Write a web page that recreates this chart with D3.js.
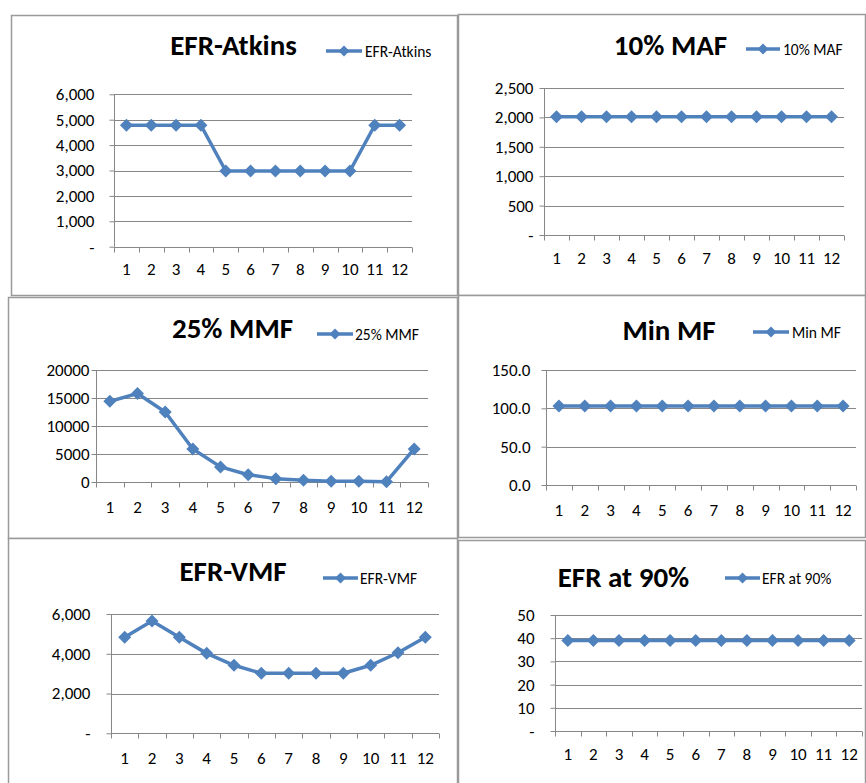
<!DOCTYPE html>
<html><head><meta charset="utf-8">
<script src="https://cdn.jsdelivr.net/npm/d3@7"></script>
<style>
html,body{margin:0;padding:0;background:#fff;}
svg{display:block;}
text{font-family:Carlito,Calibri,Lato,"Open Sans",sans-serif;fill:#000;}
</style></head>
<body>
<svg id="c" width="866" height="783"></svg>
<script>
// ---- data ----
const months = ["1","2","3","4","5","6","7","8","9","10","11","12"];
const titles = ["EFR-Atkins","10% MAF","25% MMF","Min MF","EFR-VMF","EFR at 90%"];
const efrAtkins = [4780,4780,4780,4780,2980,2980,2980,2980,2980,2980,4780,4780];
const maf10 = [2010,2010,2010,2010,2010,2010,2010,2010,2010,2010,2010,2010];
const mmf25 = [14400,15800,12500,5900,2700,1300,600,300,150,120,50,5900];
const minMF = [103,103,103,103,103,103,103,103,103,103,103,103];
const efrVMF = [4830,5650,4830,4020,3420,3020,3020,3020,3020,3420,4050,4830];
const efr90 = [39,39,39,39,39,39,39,39,39,39,39,39];
const ticksAtkins = [0,1000,2000,3000,4000,5000,6000];
const ticksMAF = [0,500,1000,1500,2000,2500];
const ticksMMF = [0,5000,10000,15000,20000];
const ticksMinMF = [0,50,100,150];
const ticksVMF = [0,2000,4000,6000];
const ticks90 = [0,10,20,30,40,50];

const fmtComma = v => v === 0 ? "-" : d3.format(",")(v);
const fmtPlain = v => d3.format("d")(v);
const fmtDec = v => d3.format(".1f")(v);
const fmtDash = v => v === 0 ? "-" : d3.format("d")(v);

// ---- layout ----
const panels = [
  {title:titles[0], values:efrAtkins, ticks:ticksAtkins, fmt:fmtComma,
   box:[11,15,457,295], plot:{l:114,r:412,t:94.3,b:246.7}, tx:233.5, ty:55,
   lg:{x0:326,x1:362,y:51,tx:365}, ygap:20, xgap:27},
  {title:titles[1], values:maf10, ticks:ticksMAF, fmt:fmtComma,
   box:[458,14,865,295], plot:{l:544,r:844,t:88,b:235}, tx:670.5, ty:55,
   lg:{x0:746,x1:780,y:49,tx:783}, ygap:11, xgap:28},
  {title:titles[2], values:mmf25, ticks:ticksMMF, fmt:fmtPlain,
   box:[8,297,457,538], plot:{l:96,r:428,t:370,b:482}, tx:232.5, ty:338,
   lg:{x0:317,x1:353,y:334,tx:355}, ygap:7, xgap:30},
  {title:titles[3], values:minMF, ticks:ticksMinMF, fmt:fmtDec,
   box:[458,295,865,537], plot:{l:546,r:856,t:370,b:485}, tx:669, ty:340,
   lg:{x0:753,x1:789,y:332,tx:792}, ygap:16, xgap:30},
  {title:titles[4], values:efrVMF, ticks:ticksVMF, fmt:fmtComma,
   box:[8,538,457,800], plot:{l:111,r:439,t:614,b:733.3}, tx:233, ty:581,
   lg:{x0:323,x1:358,y:578,tx:360}, ygap:21, xgap:30},
  {title:titles[5], values:efr90, ticks:ticks90, fmt:fmtDash,
   box:[458,540,865,800], plot:{l:555,r:862,t:615,b:731}, tx:623.5, ty:587,
   lg:{x0:725,x1:760,y:578,tx:762}, ygap:21, xgap:28}
];

const blue = "#4F81BD";
const gridC = "#878787";
const svg = d3.select("#c");
const diamond = s => `M0,${-s}L${s},0L0,${s}L${-s},0Z`;

panels.forEach(p => {
  const g = svg.append("g");
  const [bx0,by0,bx1,by1] = p.box;
  g.append("rect").attr("x",bx0+0.5).attr("y",by0+0.5)
    .attr("width",bx1-bx0).attr("height",by1-by0)
    .attr("fill","#fff").attr("stroke","#9a9a9a").attr("stroke-width",1.5);

  const x = d3.scaleBand().domain(months).range([p.plot.l,p.plot.r]);
  const yMax = p.ticks[p.ticks.length-1];
  const y = d3.scaleLinear().domain([0,yMax]).range([p.plot.b,p.plot.t]);

  // gridlines
  g.append("g").selectAll("line").data(p.ticks.filter(t=>t>0)).join("line")
    .attr("x1",p.plot.l).attr("x2",p.plot.r)
    .attr("y1",d=>Math.round(y(d))+0.5).attr("y2",d=>Math.round(y(d))+0.5)
    .attr("stroke",gridC).attr("stroke-width",1);

  // y axis
  const ya = g.append("g").attr("transform",`translate(${Math.round(p.plot.l)+0.5},0)`)
    .call(d3.axisLeft(y).tickValues(p.ticks).tickFormat(p.fmt).tickSize(5).tickPadding(p.ygap-5));
  ya.select(".domain").attr("stroke",gridC).attr("d",`M0,${p.plot.t}V${p.plot.b}`);
  ya.selectAll(".tick line").attr("stroke",gridC);
  ya.selectAll(".tick text").style("font-size","17px").style("font-family","Carlito,Calibri,Lato,sans-serif").attr("fill","#000");

  // x axis
  const xa = g.append("g").attr("transform",`translate(0,${Math.round(p.plot.b)+0.5})`);
  xa.append("line").attr("x1",p.plot.l).attr("x2",p.plot.r).attr("stroke",gridC);
  const bounds = months.map(m=>x(m)).concat([p.plot.r]);
  xa.selectAll("line.tk").data(bounds).join("line").attr("class","tk")
    .attr("x1",d=>Math.round(d)+0.5).attr("x2",d=>Math.round(d)+0.5)
    .attr("y1",0).attr("y2",5).attr("stroke",gridC);
  xa.selectAll("text").data(months).join("text")
    .attr("x",d=>x(d)+x.bandwidth()/2).attr("y",p.xgap)
    .attr("text-anchor","middle").style("font-size","17px").text(d=>d);

  // line
  const line = d3.line().x((d,i)=>x(months[i])+x.bandwidth()/2).y(d=>y(d));
  g.append("path").datum(p.values).attr("d",line)
    .attr("fill","none").attr("stroke",blue).attr("stroke-width",3.5).attr("stroke-linejoin","round");
  g.append("g").selectAll("path").data(p.values).join("path")
    .attr("transform",(d,i)=>`translate(${x(months[i])+x.bandwidth()/2},${y(d)})`)
    .attr("d",diamond(6.5)).attr("fill",blue);

  // title
  g.append("text").attr("x",p.tx).attr("y",p.ty).attr("text-anchor","middle")
    .style("font-size","29px").style("font-weight","bold").text(p.title);

  // legend
  g.append("line").attr("x1",p.lg.x0).attr("x2",p.lg.x1).attr("y1",p.lg.y).attr("y2",p.lg.y)
    .attr("stroke",blue).attr("stroke-width",3.5);
  g.append("path").attr("transform",`translate(${(p.lg.x0+p.lg.x1)/2},${p.lg.y})`)
    .attr("d",diamond(5.5)).attr("fill",blue);
  g.append("text").attr("x",p.lg.tx).attr("y",p.lg.y+5.5).style("font-size","15.5px").text(p.title);
});
</script>
</body></html>
